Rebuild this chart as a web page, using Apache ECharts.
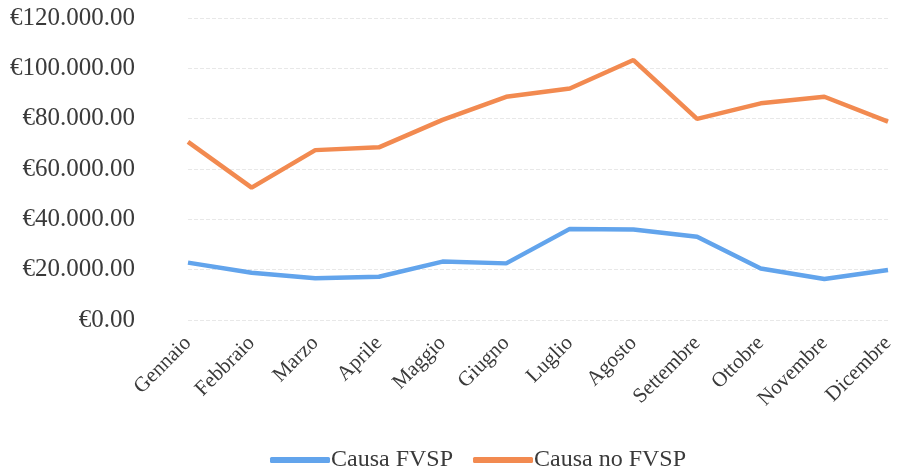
<!DOCTYPE html>
<html lang="it">
<head>
    <meta charset="UTF-8">
    <title>Causa FVSP</title>
    <script src="https://cdn.jsdelivr.net/npm/echarts@6/dist/echarts.min.js"></script>
    <style>
        html, body { margin: 0; padding: 0; background: #fff; }
        #main { width: 905px; height: 475px; }
    </style>
</head>
<body>
<div id="main"></div>
<script>
    // mesi
    var mesi = ['Gennaio', 'Febbraio', 'Marzo', 'Aprile', 'Maggio', 'Giugno',
        'Luglio', 'Agosto', 'Settembre', 'Ottobre', 'Novembre', 'Dicembre'];
    // valori in euro
    var causaFVSP = [22800, 18800, 16600, 17200, 23200, 22500, 36200, 36000, 33100, 20500, 16300, 19900];
    var causaNoFVSP = [70800, 52600, 67500, 68600, 79500, 88700, 92000, 103300, 79900, 86100, 88700, 78800];
    var yMin = 0, yMax = 120000, yStep = 20000;

    // €120.000.00 (formato come nell'originale)
    function euro(v) {
        var s = String(Math.round(v));
        if (v === 0) return '€0.00';
        var parts = [];
        while (s.length > 3) {
            parts.unshift(s.slice(-3));
            s = s.slice(0, -3);
        }
        parts.unshift(s);
        return '€' + parts.join('.') + '.00';
    }

    var chart = echarts.init(document.getElementById('main'));
    var font = 'Liberation Serif';

    chart.setOption({
        animation: false,
        backgroundColor: '#ffffff',
        grid: { left: 188, right: 17, top: 18, bottom: 155 },
        legend: {
            bottom: -2,
            left: 265,
            itemWidth: 60,
            itemHeight: 6,
            itemGap: 20,
            icon: 'roundRect',
            textStyle: { fontFamily: font, fontSize: 24, color: '#3a3a3a', padding: [0, 0, 0, -4] },
            data: ['Causa FVSP', 'Causa no FVSP']
        },
        xAxis: {
            type: 'category',
            data: mesi,
            boundaryGap: false,
            axisLine: { show: false },
            axisTick: { show: false },
            splitLine: { show: false },
            axisLabel: {
                rotate: 45,
                margin: 20,
                fontFamily: font,
                fontSize: 21,
                color: '#3a3a3a'
            }
        },
        yAxis: {
            type: 'value',
            min: yMin,
            max: yMax,
            interval: yStep,
            axisLine: { show: false },
            axisTick: { show: false },
            splitLine: { lineStyle: { color: '#e8e8e8', type: 'dashed', width: 1 } },
            axisLabel: {
                margin: 53,
                fontFamily: font,
                fontSize: 25,
                color: '#3a3a3a',
                formatter: euro
            }
        },
        series: [
            {
                name: 'Causa FVSP',
                type: 'line',
                data: causaFVSP,
                symbol: 'none',
                lineStyle: { color: '#62a4ec', width: 4.5 },
                itemStyle: { color: '#62a4ec' }
            },
            {
                name: 'Causa no FVSP',
                type: 'line',
                data: causaNoFVSP,
                symbol: 'none',
                lineStyle: { color: '#f28a50', width: 4.5 },
                itemStyle: { color: '#f28a50' }
            }
        ]
    });
</script>
</body>
</html>
